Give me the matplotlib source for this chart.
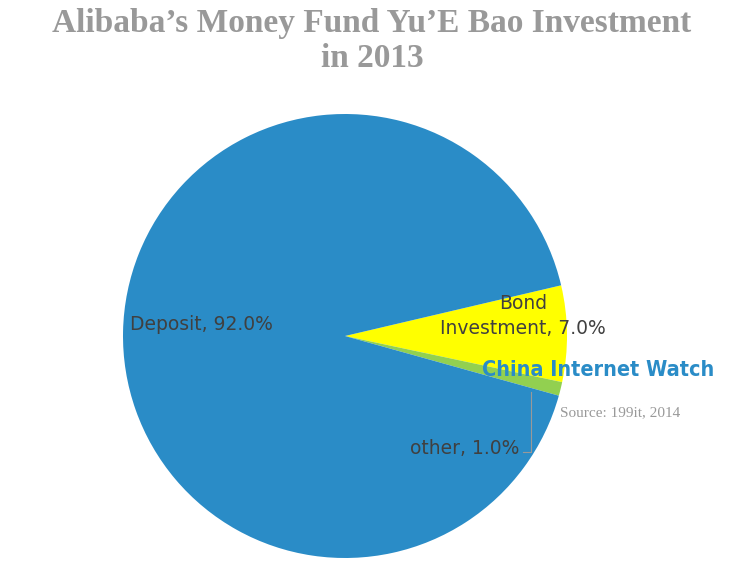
import matplotlib.pyplot as plt

# data
names = ['Bond\nInvestment', 'other', 'Deposit']
shares = [7.0, 1.0, 92.0]
colors = ['#FFFF00', '#92D050', '#2A8CC7']

fig = plt.figure(figsize=(7.5, 5.76), dpi=100)
ax = fig.add_axes([0, 0, 1, 1])

wedges, _ = ax.pie(shares, colors=colors, startangle=13.2, counterclock=False,
                   center=(345, 240), radius=222, frame=True,
                   wedgeprops=dict(linewidth=0))
ax.set_xlim(0, 750)
ax.set_ylim(0, 576)
ax.axis('off')

labs = ['%s, %.1f%%' % (n, s) for n, s in zip(names, shares)]
lab_style = dict(fontsize=13.5, color='#404040', family='DejaVu Sans')
ax.text(523, 260, labs[0], ha='center', va='center', linespacing=1.35, **lab_style)
ax.text(465, 128, labs[1], ha='center', va='center', **lab_style)
ax.text(201, 251, labs[2], ha='center', va='center', **lab_style)

# leader line for "other"
ax.plot([531, 531, 523], [184, 124, 124], color='#999999', lw=0.8)

ax.text(372, 535, "Alibaba\u2019s Money Fund Yu\u2019E Bao Investment\nin 2013",
        ha='center', va='center', fontsize=24, fontweight='bold',
        family='Liberation Serif', color='#999999', linespacing=1.2)

ax.text(598, 206, 'China Internet Watch', ha='center', va='center',
        fontsize=15.5, fontweight='bold', fontstretch='condensed',
        family='DejaVu Sans', color='#2A8CC7')
ax.text(620, 163, 'Source: 199it, 2014', ha='center', va='center',
        fontsize=11, family='Liberation Serif', color='#999999')

fig.savefig('out.png', dpi=100)
